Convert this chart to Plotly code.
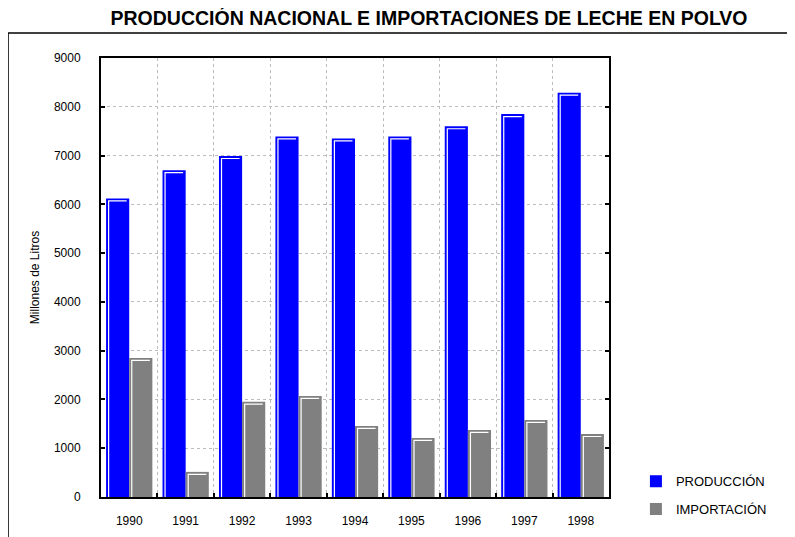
import plotly.graph_objects as go

years = [1990, 1991, 1992, 1993, 1994, 1995, 1996, 1997, 1998]
produccion = [6120, 6700, 6990, 7390, 7350, 7390, 7600, 7850, 8290]
importacion = [2850, 515, 1955, 2070, 1455, 1210, 1375, 1580, 1290]
year_labels = [str(y) for y in years]
y_ticks = list(range(0, 9001, 1000))

BLUE = "#0000FF"
GRAY = "#808080"
BARGAP = 0.18
HALF = (1 - BARGAP) / 2          # width of one bar in x units
DX = 0.045                        # bevel inset in x units
DY = 50                           # bevel inset in y units


def bevel(values, side):
    xs, ys = [], []
    for yr, v in zip(years, values):
        left = yr - HALF if side == 0 else yr
        right = left + HALF
        xs += [left + DX, left + DX, right - DX, None]
        ys += [0, v - DY, v - DY, None]
    return xs, ys


fig = go.Figure()
fig.add_trace(go.Bar(x=years, y=produccion, name="PRODUCCIÓN",
                     marker=dict(color=BLUE, line=dict(width=0)),
                     legendgroup="a"))
fig.add_trace(go.Bar(x=years, y=importacion, name="IMPORTACIÓN",
                     marker=dict(color=GRAY, line=dict(width=0)),
                     legendgroup="b"))
for vals, side in ((produccion, 0), (importacion, 1)):
    bx, by = bevel(vals, side)
    fig.add_trace(go.Scatter(x=bx, y=by, mode="lines",
                             line=dict(color="white", width=1.2),
                             showlegend=False, hoverinfo="skip"))

bounds = [y + 0.5 for y in years[:-1]]
fig.add_trace(go.Scatter(x=[None], y=[None], xaxis="x2", showlegend=False,
                         hoverinfo="skip"))

fig.update_layout(
    width=795, height=537,
    paper_bgcolor="white", plot_bgcolor="white",
    margin=dict(l=93, r=194, t=50, b=48),
    barmode="group", bargap=BARGAP, bargroupgap=0,
    font=dict(family="Liberation Sans, Arial, sans-serif", size=12, color="black"),
    title=dict(text="<b>PRODUCCIÓN NACIONAL E IMPORTACIONES DE LECHE EN POLVO</b>",
               x=421 / 795, xref="container", xanchor="center",
               y=1 - 10 / 537, yref="container", yanchor="middle",
               font=dict(size=19.5, color="black")),
    xaxis=dict(range=[1989.5, 1998.5], tickvals=years, ticktext=year_labels,
               ticks="", showgrid=False, zeroline=False,
               showline=True, linecolor="black", linewidth=2, mirror=True,
               ticklabelstandoff=12, tickfont=dict(size=12)),
    xaxis2=dict(range=[1989.5, 1998.5], overlaying="x", side="bottom",
                tickvals=bounds, showticklabels=False,
                ticks="inside", ticklen=4, tickwidth=2, tickcolor="black",
                showgrid=True, gridcolor="#BDBDBD", griddash="dot", gridwidth=1,
                zeroline=False, showline=False),
    yaxis=dict(range=[0, 9000], tickvals=y_ticks, ticks="inside", ticklen=4,
               tickwidth=2, tickcolor="black",
               showgrid=True, gridcolor="#BDBDBD", griddash="dot", gridwidth=1,
               zeroline=False, showline=True, linecolor="black", linewidth=2,
               mirror="ticks", ticklabelstandoff=16,
               title=dict(text="Millones de Litros", standoff=12,
                          font=dict(size=12)),
               tickfont=dict(size=12)),
    legend=dict(x=1.053, xanchor="left", y=0.07, yanchor="top",
                font=dict(size=13), traceorder="grouped", tracegroupgap=8,
                bgcolor="rgba(0,0,0,0)"),
    shapes=[
        dict(type="line", xref="paper", yref="paper", x0=-0.183, x1=-0.183,
             y0=-0.2, y1=1.057, line=dict(color="black", width=1.5)),
        dict(type="line", xref="paper", yref="paper", x0=-0.183, x1=1.5,
             y0=1.057, y1=1.057, line=dict(color="black", width=1.5)),
    ],
)

fig.write_html("out.html")
